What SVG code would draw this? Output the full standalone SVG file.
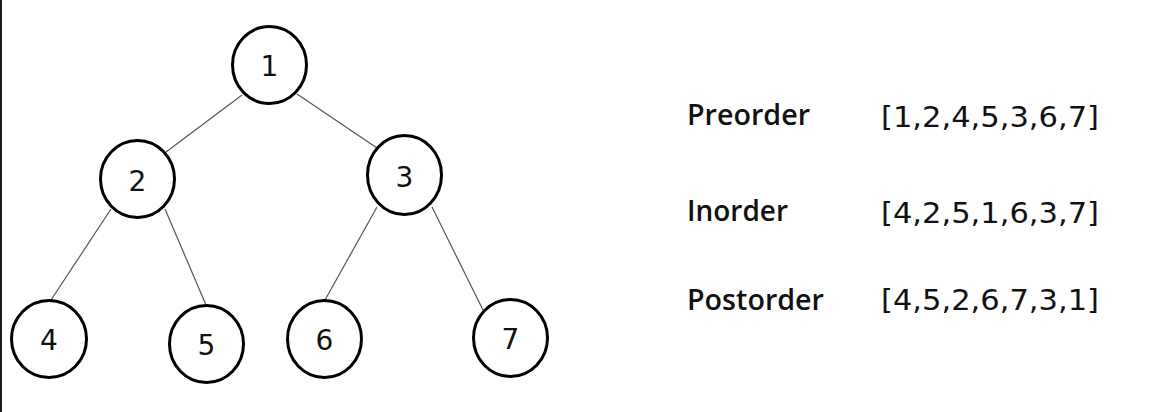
<svg xmlns="http://www.w3.org/2000/svg" width="1154" height="412" viewBox="0 0 1154 412">
<style>
.node ellipse{fill:#fff;stroke:#000;stroke-width:3}
.node text{font-family:"DejaVu Sans",Verdana,sans-serif;font-size:28px;fill:#111;text-anchor:middle}
.edges line{stroke:#555;stroke-width:1.2}
.lbl{font-family:"Open Sans",sans-serif;font-weight:600;font-size:28px;fill:#111}
.seq{font-family:"DejaVu Sans",Verdana,sans-serif;font-size:29px;fill:#111}
</style>
<rect width="1154" height="412" fill="#fff"/>
<rect x="0" y="0" width="2" height="412" fill="#1a1a1a"/>
<g class="edges">
<line x1="242" y1="95" x2="166" y2="152"/>
<line x1="297" y1="94" x2="377" y2="148"/>
<line x1="111" y1="209" x2="51" y2="300"/>
<line x1="165" y1="209" x2="206" y2="305"/>
<line x1="377" y1="207" x2="325" y2="300"/>
<line x1="432" y1="207" x2="483" y2="310"/>
</g>
<g id="n1" class="node"><ellipse cx="269.5" cy="65" rx="37" ry="38.5"/><text x="269.5" y="76">1</text></g>
<g id="n2" class="node"><ellipse cx="137.5" cy="179" rx="37" ry="38.5"/><text x="137.5" y="191">2</text></g>
<g id="n3" class="node"><ellipse cx="404.5" cy="175" rx="37" ry="39.5"/><text x="404.5" y="187">3</text></g>
<g id="n4" class="node"><ellipse cx="49" cy="339" rx="37.5" ry="38.5"/><text x="49" y="350">4</text></g>
<g id="n5" class="node"><ellipse cx="206.5" cy="344" rx="37" ry="38.5"/><text x="206.5" y="355">5</text></g>
<g id="n6" class="node"><ellipse cx="324.5" cy="339" rx="37" ry="38.5"/><text x="324.5" y="350">6</text></g>
<g id="n7" class="node"><ellipse cx="510.5" cy="338" rx="37" ry="38.5"/><text x="510.5" y="349">7</text></g>
<g id="legend">
<text class="lbl" x="687" y="125" textLength="123" lengthAdjust="spacingAndGlyphs">Preorder</text>
<text class="lbl" x="687" y="221" textLength="101" lengthAdjust="spacingAndGlyphs">Inorder</text>
<text class="lbl" x="687" y="310" textLength="137" lengthAdjust="spacingAndGlyphs">Postorder</text>
<text class="seq" x="881" y="127" textLength="218" lengthAdjust="spacingAndGlyphs">[1,2,4,5,3,6,7]</text>
<text class="seq" x="881" y="223" textLength="218" lengthAdjust="spacingAndGlyphs">[4,2,5,1,6,3,7]</text>
<text class="seq" x="881" y="310" textLength="218" lengthAdjust="spacingAndGlyphs">[4,5,2,6,7,3,1]</text>
</g>
</svg>
